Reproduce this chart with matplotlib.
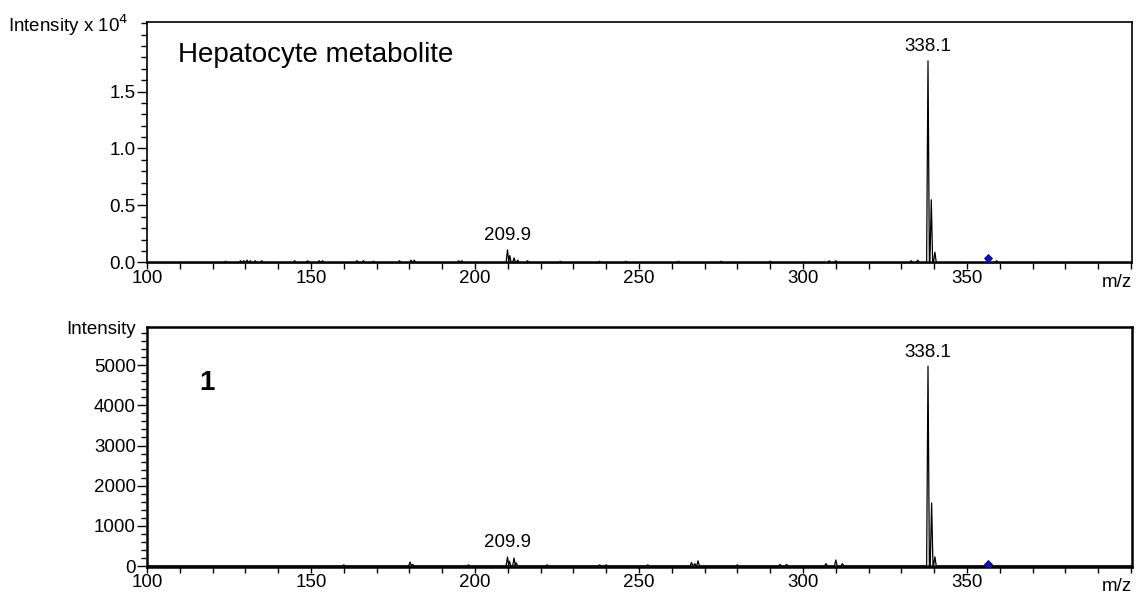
import numpy as np
import matplotlib
matplotlib.use("Agg")
from matplotlib import pyplot as plt
from matplotlib.ticker import MultipleLocator, FormatStrFormatter

plt.rcParams['font.family'] = ['Liberation Sans', 'DejaVu Sans']

# top panel: hepatocyte metabolite (intensity in units of 10^4)
top_mz = [124.0, 128.5, 129.5, 130.5, 131.5, 133.0, 135.0, 145.0, 149.0, 152.5, 153.5,
          164.0, 166.0, 169.0, 177.0, 180.5, 181.5, 195.0, 196.0, 209.9, 210.6, 211.9,
          213.0, 216.0, 226.0, 238.0, 246.0, 262.0, 275.0, 290.0, 308.0, 310.0, 333.0,
          335.0, 338.1, 339.1, 340.2, 359.0]
top_int = [0.01, 0.015, 0.015, 0.02, 0.015, 0.015, 0.015, 0.015, 0.015, 0.015, 0.015,
           0.015, 0.015, 0.01, 0.015, 0.02, 0.02, 0.015, 0.015, 0.11, 0.06, 0.04,
           0.02, 0.015, 0.01, 0.01, 0.01, 0.01, 0.01, 0.01, 0.015, 0.015, 0.015,
           0.02, 1.77, 0.55, 0.09, 0.015]

# bottom panel: compound 1
bot_mz = [160.0, 180.2, 181.0, 198.0, 209.9, 210.5, 211.9, 212.6, 222.0, 238.0, 240.0,
          252.7, 266.0, 267.0, 268.0, 280.0, 293.0, 295.0, 307.0, 310.0, 312.0,
          338.1, 339.2, 340.2]
bot_int = [30, 100, 40, 30, 225, 120, 200, 80, 30, 30, 30,
           30, 90, 60, 130, 30, 40, 40, 60, 150, 60,
           4975, 1570, 230]

precursor_mz = 356.4
precursor_top = 0.035
precursor_bot = 50

labels_mz = [209.9, 338.1]
labels_txt = ["209.9", "338.1"]


def profile(mz, inten, width=0.42):
    # turn centroid peaks into a narrow triangle profile line
    xs = [100.0]
    ys = [0.0]
    for m, i in sorted(zip(mz, inten)):
        xs += [m - width, m, m + width]
        ys += [0.0, i, 0.0]
    xs.append(400.3)
    ys.append(0.0)
    return np.array(xs), np.array(ys)


fig = plt.figure(figsize=(11.43, 5.95), dpi=100)
ax1 = fig.add_axes([0.1286, 0.558, 0.8618, 0.405])
ax2 = fig.add_axes([0.1286, 0.047, 0.8618, 0.4034])

fs = 13.5

for ax, mz, inten, prec, ylim, spw in [
        (ax1, top_mz, top_int, precursor_top, (-0.005, 2.11), 1.2),
        (ax2, bot_mz, bot_int, precursor_bot, (-25, 5950), 1.8)]:
    x, y = profile(mz, inten)
    ax.axhline(0, color='#555555', lw=2.2, zorder=1)
    ax.plot(x, y, color='black', lw=0.9, zorder=2)
    ax.plot([precursor_mz], [prec], marker='D', color='#1010c0', markersize=4.5,
            markeredgecolor='#000080', markeredgewidth=0.6, zorder=3)
    ax.set_xlim(100, 400.3)
    ax.set_ylim(*ylim)
    ax.xaxis.set_minor_locator(MultipleLocator(10))
    ax.set_xticks([100, 150, 200, 250, 300, 350])
    ax.tick_params(axis='x', which='both', direction='out', length=4, width=1,
                   labelsize=fs, pad=1)
    ax.tick_params(axis='y', which='major', direction='out', length=7, width=1,
                   labelsize=fs, pad=1)
    ax.tick_params(axis='y', which='minor', direction='out', length=4, width=1)
    for s in ax.spines.values():
        s.set_linewidth(spw)
    ax.text(1.0, -0.045, "m/z", transform=ax.transAxes, ha='right', va='top',
            fontsize=fs)
    peaks = dict(zip(mz, inten))
    for m, t in zip(labels_mz, labels_txt):
        ax.annotate(t, xy=(m, peaks[m]), xytext=(0, 4), textcoords='offset points',
                    ha='center', va='bottom', fontsize=fs)

ax1.yaxis.set_minor_locator(MultipleLocator(0.1))
ax1.yaxis.set_major_formatter(FormatStrFormatter('%.1f'))
ax1.set_yticks([0.0, 0.5, 1.0, 1.5])

ax2.yaxis.set_minor_locator(MultipleLocator(200))
ax2.set_yticks([0, 1000, 2000, 3000, 4000, 5000])

ax1.text(-0.019, 0.985, "Intensity x 10$^4$", transform=ax1.transAxes,
         ha='right', va='center', fontsize=fs)
ax2.text(-0.011, 0.99, "Intensity", transform=ax2.transAxes,
         ha='right', va='center', fontsize=fs)

ax1.text(0.031, 0.865, "Hepatocyte metabolite", transform=ax1.transAxes,
         ha='left', va='center', fontsize=20)
ax2.text(0.053, 0.765, "1", transform=ax2.transAxes,
         ha='left', va='center', fontsize=20, fontweight='bold')

fig.savefig("out.png", dpi=100)
